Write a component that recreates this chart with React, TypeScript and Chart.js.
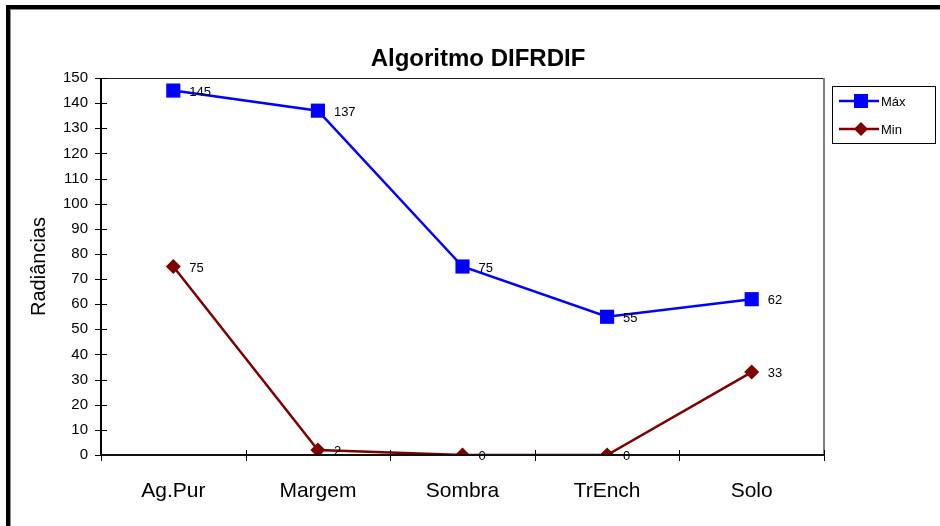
import React, { useEffect, useRef } from "react";
import { Chart, registerables } from "chart.js";

Chart.register(...registerables);

const categories = ["Ag.Pur", "Margem", "Sombra", "TrEnch", "Solo"];
const maxValues = [145, 137, 75, 55, 62];
const minValues = [75, 2, 0, 0, 33];
const seriesNames = ["Máx", "Min"];
const seriesColors = ["#0000FF", "#800000"];
const chartTitle = "Algoritmo DIFRDIF";
const yAxisTitle = "Radiâncias";
const yMin = 0;
const yMax = 150;
const yStep = 10;

const FONT = "'Liberation Sans', Arial, sans-serif";

const decorPlugin = {
  id: "decor",
  afterDraw(chart: any) {
    const ctx = chart.ctx as CanvasRenderingContext2D;
    const { left, right, top, bottom } = chart.chartArea;
    const L = Math.round(left);
    const R = Math.round(right);
    const T = Math.round(top);
    const B = Math.round(bottom);
    ctx.save();

    // outer frame (thick top + left, thin grey inner)
    ctx.fillStyle = "#000";
    ctx.fillRect(6, 5, 934, 4);
    ctx.fillRect(6, 5, 4, 521);
    ctx.fillStyle = "#8a8a8a";
    ctx.fillRect(10, 9, 930, 1);
    ctx.fillRect(10, 9, 1, 517);

    // plot area border (top, right)
    ctx.fillStyle = "#222";
    ctx.fillRect(L, T, R - L, 1);
    ctx.fillStyle = "#808080";
    ctx.fillRect(R - 1, T, 2, B - T);

    // y axis line and ticks
    ctx.strokeStyle = "#000";
    ctx.lineWidth = 2;
    ctx.beginPath();
    ctx.moveTo(L, T);
    ctx.lineTo(L, B + 1);
    ctx.stroke();
    ctx.fillStyle = "#000";
    const ys = chart.scales.y;
    for (let v = yMin; v <= yMax; v += yStep) {
      const py = Math.round(ys.getPixelForValue(v));
      ctx.fillRect(L - 6, py, 12, 1);
    }

    // x ticks
    const xs = chart.scales.x;
    for (let i = 0; i <= categories.length; i++) {
      const px = Math.round(xs.getPixelForValue(i - 0.5));
      ctx.fillRect(px, B - 5, 1, 11);
    }
    // x axis line
    ctx.fillStyle = "#111";
    ctx.fillRect(L, B - 1, R - L + 1, 2);

    // title
    ctx.fillStyle = "#000";
    ctx.font = `bold 24px ${FONT}`;
    ctx.textAlign = "center";
    ctx.textBaseline = "alphabetic";
    ctx.fillText(chartTitle, 478, 66);

    // data labels
    ctx.font = `13px ${FONT}`;
    ctx.textAlign = "left";
    ctx.textBaseline = "middle";
    chart.data.datasets.forEach((ds: any, di: number) => {
      const meta = chart.getDatasetMeta(di);
      meta.data.forEach((pt: any, i: number) => {
        ctx.fillText(String(ds.data[i]), pt.x + 16, pt.y + 1.5);
      });
    });

    // legend
    ctx.strokeStyle = "#000";
    ctx.lineWidth = 1;
    ctx.strokeRect(832.5, 86.5, 103, 57);
    const rows = [101, 129];
    chart.data.datasets.forEach((ds: any, di: number) => {
      const y = rows[di];
      ctx.strokeStyle = ds.borderColor;
      ctx.lineWidth = 2.5;
      ctx.beginPath();
      ctx.moveTo(839, y);
      ctx.lineTo(879, y);
      ctx.stroke();
      ctx.fillStyle = ds.borderColor;
      if (di === 0) {
        ctx.fillRect(854, y - 7, 14, 14);
      } else {
        ctx.beginPath();
        ctx.moveTo(861, y - 7);
        ctx.lineTo(868, y);
        ctx.lineTo(861, y + 7);
        ctx.lineTo(854, y);
        ctx.closePath();
        ctx.fill();
      }
      ctx.fillStyle = "#000";
      ctx.font = `13px ${FONT}`;
      ctx.textAlign = "left";
      ctx.textBaseline = "middle";
      ctx.fillText(ds.label, 881, y + 1);
    });

    ctx.restore();
  },
};

export default function App() {
  const ref = useRef<HTMLCanvasElement | null>(null);

  useEffect(() => {
    if (!ref.current) return;
    const chart = new Chart(ref.current, {
      type: "line",
      data: {
        labels: categories,
        datasets: [
          {
            label: seriesNames[0],
            data: maxValues,
            borderColor: seriesColors[0],
            backgroundColor: seriesColors[0],
            borderWidth: 2.5,
            pointStyle: "rect",
            pointRadius: 10,
            pointBorderWidth: 0,
            tension: 0,
          },
          {
            label: seriesNames[1],
            data: minValues,
            borderColor: seriesColors[1],
            backgroundColor: seriesColors[1],
            borderWidth: 2.5,
            pointStyle: "rectRot",
            pointRadius: 7.5,
            pointBorderWidth: 0,
            tension: 0,
          },
        ],
      },
      options: {
        animation: false,
        responsive: false,
        devicePixelRatio: 1,
        layout: { padding: { left: 0, top: 78, right: 116, bottom: 0 } },
        plugins: {
          legend: { display: false },
          title: { display: false },
          tooltip: { enabled: false },
        },
        scales: {
          x: {
            type: "category",
            offset: true,
            grid: { display: true, offset: true, color: "transparent", drawTicks: true, tickLength: 6 },
            border: { display: false },
            ticks: {
              color: "#000",
              font: { family: FONT, size: 21 },
              padding: 18,
              maxRotation: 0,
              autoSkip: false,
            },
            afterFit: (s: any) => {
              s.height = 71;
            },
          },
          y: {
            min: yMin,
            max: yMax,
            grid: { display: true, color: "transparent", drawTicks: true, tickLength: 6 },
            border: { display: false },
            ticks: {
              stepSize: yStep,
              color: "#000",
              font: { family: FONT, size: 15 },
              padding: 7,
            },
            title: {
              display: true,
              text: yAxisTitle,
              color: "#000",
              font: { family: FONT, size: 20 },
              padding: { top: 27, bottom: 0 },
            },
            afterFit: (s: any) => {
              s.width = 101;
            },
          },
        },
      },
      plugins: [decorPlugin],
    });
    return () => chart.destroy();
  }, []);

  return (
    <div style={{ position: "absolute", left: 0, top: 0, width: 940, height: 526, background: "#fff" }}>
      <canvas ref={ref} width={940} height={526} />
    </div>
  );
}
